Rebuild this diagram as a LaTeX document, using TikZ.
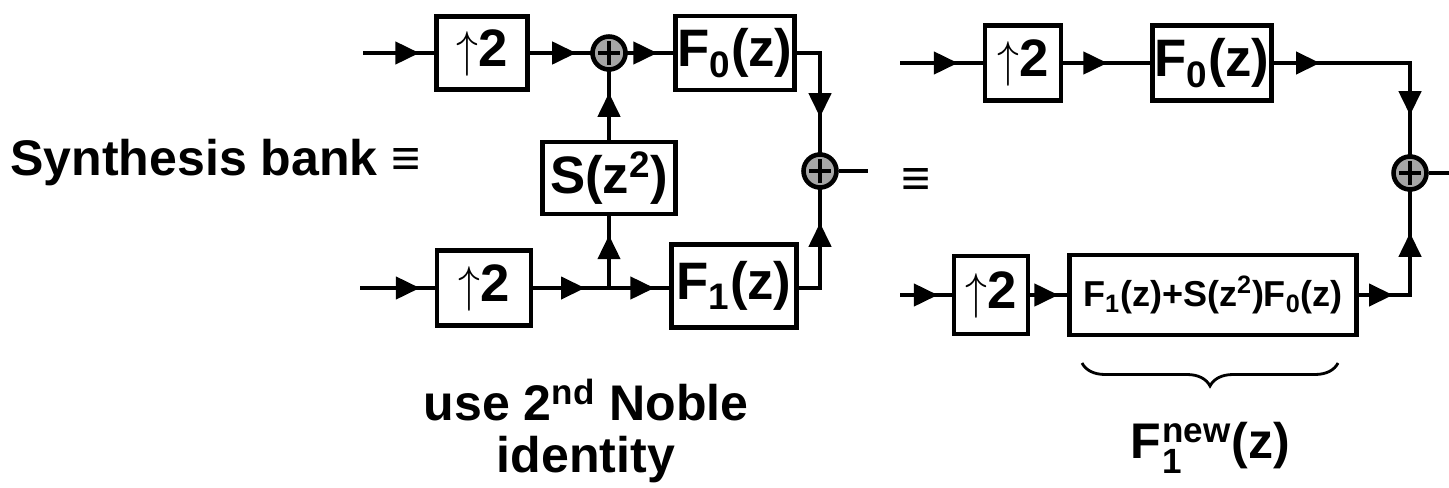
\documentclass[tikz,border=0pt]{standalone}
\usepackage{amsmath}
\usepackage{fontspec}
\setmainfont{Liberation Sans}
\usetikzlibrary{arrows.meta,decorations.markings,decorations.pathreplacing}

\begin{document}
\begin{tikzpicture}[x=0.02cm,y=-0.02cm,
    blk/.style={draw, line width=2.4pt, inner sep=0pt,
      font=\fontsize{30}{33}\selectfont\bfseries},
    adder/.style={circle, draw, fill=gray!70, line width=2.6pt,
      minimum size=0.66cm, inner sep=0pt,
      path picture={\draw[line width=2.6pt]
        ([xshift=-0.22cm]path picture bounding box.center) --
        ([xshift=0.22cm]path picture bounding box.center)
        ([yshift=-0.24cm]path picture bounding box.center) --
        ([yshift=0.24cm]path picture bounding box.center);}},
    flow/.style={line width=2.4pt, line cap=rect, postaction=decorate,
      decoration={markings, mark=at position #1 with
        {\arrow{Triangle[length=0.48cm,width=0.44cm]}}}},
    flow/.default=-0.3cm,
    lbl/.style={inner sep=0pt, font=\fontsize{28.5}{29.6}\selectfont\bfseries}]
  \useasboundingbox (0,0) rectangle (1449,487);
  %
  \node[lbl, anchor=base west] (synth) at (10,175) {Synthesis bank ≡};
  \coordinate (inA) at (365,53);
  \node[blk, minimum width=1.82cm, minimum height=1.46cm] (upA) at (482,53) {\scalebox{1}[1.15]{$\uparrow$}2};
  \node[adder] (addA) at (609,53) {};
  \node[blk, minimum width=2.38cm, minimum height=1.48cm] (F0A) at (735,53) {F\textsubscript{0}(z)};
  \node[blk, minimum width=2.66cm, minimum height=1.44cm] (S) at (609,178) {S(z\textsuperscript{2})};
  \coordinate (inB) at (362,288);
  \node[blk, minimum width=1.88cm, minimum height=1.5cm] (upB) at (484,288) {\scalebox{1}[1.15]{$\uparrow$}2};
  \coordinate (jB) at (609,288);
  \node[blk, minimum width=2.5cm, minimum height=1.66cm] (F1A) at (734,286) {F\textsubscript{1}(z)};
  \node[adder] (addB) at (820,171) {};
  \coordinate (outB) at (868,171);
  \node[lbl] (eqA) at (916,182) {≡};
  \node[lbl, align=center] (noble) at (586,431) {use 2\textsuperscript{nd} Noble\\identity};
  %
  \draw[flow] (inA) -- (upA);
  \draw[flow=-0.28cm] (upA) -- (addA);
  \draw[flow=-0.32cm] (addA) -- (F0A);
  \draw[flow=-0.7cm] (F0A) -| (addB);
  \draw[flow] (inB) -- (upB);
  \draw[flow=-0.48cm] (upB) -- (jB);
  \draw[flow] (jB) -- (jB -| F1A.west);
  \draw[flow=-0.38cm] (jB) -- (S);
  \draw[flow=-0.42cm] (S) -- (addA);
  \draw[flow=-0.66cm] (F1A.east |- jB) -| (addB);
  \draw[line width=2.4pt] (addB) -- (outB);
  %
  \coordinate (inC) at (902,63);
  \node[blk, minimum width=1.52cm, minimum height=1.5cm] (upC) at (1023,63) {\scalebox{1}[1.15]{$\uparrow$}2};
  \node[blk, minimum width=2.38cm, minimum height=1.5cm] (F0C) at (1212,63) {F\textsubscript{0}(z)};
  \coordinate (cnC) at (1410,63);
  \node[adder] (addC) at (1410,173) {};
  \coordinate (outC) at (1452,173);
  \coordinate (inD) at (902,295);
  \node[blk, minimum width=1.48cm, minimum height=1.56cm] (upD) at (991,295) {\scalebox{1}[1.15]{$\uparrow$}2};
  \node[blk, minimum width=5.74cm, minimum height=1.6cm,
    font=\fontsize{20.5}{23}\selectfont\bfseries] (F1S) at (1213,295)
    {F\textsubscript{1}(z)+S(z\textsuperscript{2})F\textsubscript{0}(z)};
  \coordinate (cnD) at (1410,295);
  \draw[decorate, decoration={brace, mirror, amplitude=0.46cm}, line width=1.6pt]
    (1082,363) -- (1338,363);
  \node[lbl, anchor=base] (F1newlbl) at (1210,458) {F\kern1pt$^{\text{new}}_{\text{1}}$(z)};
  %
  \draw[flow=-0.5cm] (inC) -- (upC);
  \draw[flow=-0.86cm] (upC) -- (F0C);
  \draw[flow=-1.8cm] (F0C) -- (cnC);
  \draw[flow=-0.78cm] (cnC) -- (addC);
  \draw[flow=-0.28cm] (inD) -- (upD);
  \draw[flow=-0.18cm] (upD) -- (F1S);
  \draw[flow=-0.34cm] (F1S) -- (cnD);
  \draw[flow=-0.82cm] (cnD) -- (addC);
  \draw[line width=2.4pt] (addC) -- (outC);
\end{tikzpicture}
\end{document}
